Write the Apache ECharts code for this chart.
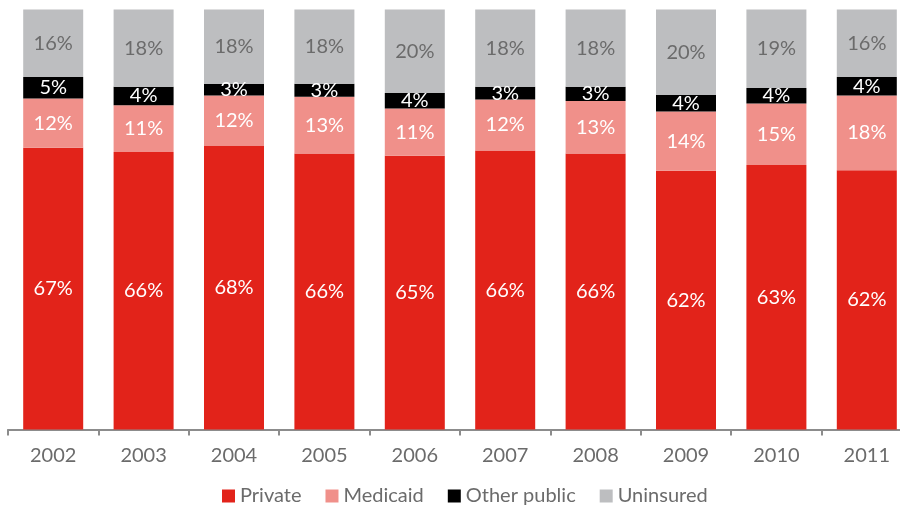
<!DOCTYPE html>
<html>
<head>
<meta charset="utf-8">
<script src="https://cdn.jsdelivr.net/npm/echarts@6/dist/echarts.min.js"></script>
<style>html,body{margin:0;padding:0;background:#fff;overflow:hidden;width:900px;height:508px}#c{width:912px;height:508px}</style>
</head>
<body>
<div id="c"></div>
<script>
var years = ['2002','2003','2004','2005','2006','2007','2008','2009','2010','2011'];
var privateVals   = [67.1, 66.1, 67.6, 65.7, 65.2, 66.4, 65.7, 61.6, 63.0, 61.7];
var medicaidVals  = [11.7, 11.1, 11.9, 13.5, 11.2, 12.2, 12.5, 14.1, 14.6, 17.8];
var otherVals     = [5.1, 4.4, 2.8, 3.1, 3.7, 3.0, 3.4, 4.0, 3.7, 4.4];
var uninsuredVals = [16.2, 18.4, 17.8, 17.8, 20.0, 18.4, 18.4, 20.3, 18.7, 16.2];
var privateLabels   = ['67%','66%','68%','66%','65%','66%','66%','62%','63%','62%'];
var medicaidLabels  = ['12%','11%','12%','13%','11%','12%','13%','14%','15%','18%'];
var otherLabels     = ['5%','4%','3%','3%','4%','3%','3%','4%','4%','4%'];
var uninsuredLabels = ['16%','18%','18%','18%','20%','18%','18%','20%','19%','16%'];

var FONT = 'Lato';
function mk(name, vals, labels, color, labelColor) {
  return {
    name: name, type: 'bar', stack: 'all', data: vals, barWidth: 60,
    itemStyle: { color: color },
    label: {
      show: true, position: 'inside', color: labelColor,
      fontFamily: FONT, fontSize: 20,
      formatter: function (p) { return labels[p.dataIndex]; }
    }
  };
}
var chart = echarts.init(document.getElementById('c'));
chart.setOption({
  animation: false,
  textStyle: { fontFamily: FONT },
  grid: { left: 8, right: 0, top: 9.5, bottom: 78.5, containLabel: false },
  legend: {
    left: 217, top: 481, itemWidth: 13, itemHeight: 13, itemGap: 24,
    icon: 'rect',
    textStyle: { fontFamily: FONT, fontSize: 20, color: '#6b6b6b' },
    data: ['Private','Medicaid','Other public','Uninsured']
  },
  xAxis: {
    type: 'category', data: years,
    axisLine: { lineStyle: { color: '#8c8c8c', width: 2 } },
    axisTick: { show: true, length: 6, lineStyle: { color: '#8c8c8c', width: 2 } },
    axisLabel: { color: '#6b6b6b', fontFamily: FONT, fontSize: 20, margin: 16 }
  },
  yAxis: { type: 'value', min: 0, max: 100, show: false, splitLine: { show: false } },
  series: [
    mk('Private', privateVals, privateLabels, '#e2231a', '#ffffff'),
    mk('Medicaid', medicaidVals, medicaidLabels, '#f0908a', '#ffffff'),
    mk('Other public', otherVals, otherLabels, '#000000', '#ffffff'),
    mk('Uninsured', uninsuredVals, uninsuredLabels, '#bdbec0', '#6b6b6b')
  ]
});
</script>
</body>
</html>
